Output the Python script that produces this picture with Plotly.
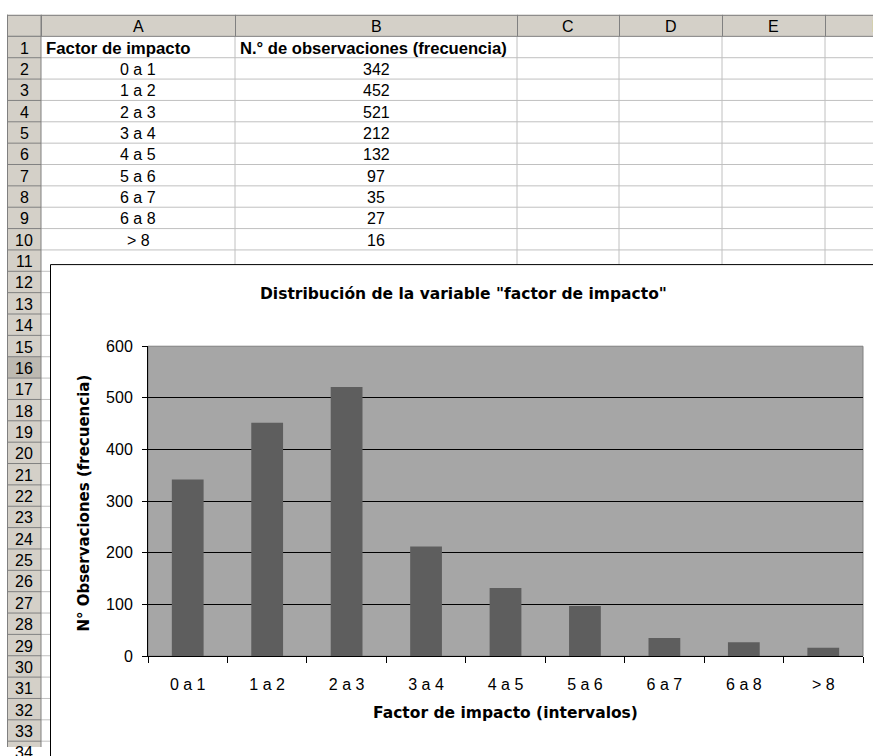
import plotly.graph_objects as go

# ---- data ----
categorias = ["0 a 1", "1 a 2", "2 a 3", "3 a 4", "4 a 5", "5 a 6", "6 a 7", "6 a 8", "> 8"]
frecuencias = [342, 452, 521, 212, 132, 97, 35, 27, 16]
columnas = ["A", "B", "C", "D", "E", "F"]
encabezado_a = "Factor de impacto"
encabezado_b = "N.° de observaciones (frecuencia)"
titulo = 'Distribución de la variable "factor de impacto"'
titulo_x = "Factor de impacto (intervalos)"
titulo_y = "N° Observaciones (frecuencia)"

W, H = 873, 756


def px(x):
    return x / W


def py(y):
    return 1 - y / H


# ---- sheet geometry (pixels) ----
col_edges = [7, 41, 235, 517, 619, 722, 825, 928]
hdr_top, hdr_bot = 7, 29
row_h = 21.85
n_rows = 35
row_edges = [hdr_bot + i * row_h for i in range(n_rows + 1)]

HDR_FILL = "#d4d0c8"
HDR_LINE = "#808080"
GRID = "#c0c0c0"

shapes = []


def rect(x0, y0, x1, y1, fill="rgba(0,0,0,0)", line=None, width=1):
    shapes.append(dict(type="rect", xref="paper", yref="paper",
                       x0=px(x0), x1=px(x1), y0=py(y1), y1=py(y0),
                       fillcolor=fill,
                       line=dict(color=line or "rgba(0,0,0,0)", width=width if line else 0),
                       layer="below"))


def seg(x0, y0, x1, y1, color, width=1):
    shapes.append(dict(type="line", xref="paper", yref="paper",
                       x0=px(x0), x1=px(x1), y0=py(y0), y1=py(y1),
                       line=dict(color=color, width=width), layer="below"))


# cell gridlines
for y in row_edges[1:]:
    seg(41, y, W, y, GRID)
for x in col_edges[2:]:
    seg(x, hdr_bot, x, H, GRID)

# column header band
rect(7, hdr_top, W + 5, hdr_bot, fill=HDR_FILL)
seg(7, hdr_top + 0.5, W, hdr_top + 0.5, HDR_LINE)
seg(7, hdr_bot, W, hdr_bot, HDR_LINE)
for x in col_edges[:-1]:
    seg(x + 0.5, hdr_top, x + 0.5, hdr_bot, HDR_LINE)

# row header band
rect(7, hdr_bot, 41, H, fill=HDR_FILL)
rect(7, row_edges[15], 41, row_edges[16], fill="#bdb9b1")
seg(7.5, hdr_top, 7.5, H, HDR_LINE)
seg(41, hdr_top, 41, H, HDR_LINE)
for y in row_edges:
    seg(7, y, 41, y, HDR_LINE)

# chart area and plot area backgrounds
rect(50.5, 262.5, W + 20, H + 20, fill="white", line="black")
rect(148, 346, 863, 663, fill="#a6a6a6", line="#808080")

annotations = []


def text(x, y, s, size=16, bold=False, anchor="center", family="Liberation Sans, Arial, sans-serif",
         angle=0):
    annotations.append(dict(xref="paper", yref="paper", x=px(x), y=py(y), text=s,
                            showarrow=False, xanchor=anchor, yanchor="middle",
                            textangle=angle,
                            font=dict(family=family, size=size, color="black",
                                      weight="bold" if bold else "normal")))


# column letters
for i, c in enumerate(columnas):
    text((col_edges[i + 1] + col_edges[i + 2]) / 2, (hdr_top + hdr_bot) / 2 + 1, c)

# row numbers
for r in range(1, n_rows):
    text(24, (row_edges[r - 1] + row_edges[r]) / 2 + 1, str(r))

# table contents
y1 = (row_edges[0] + row_edges[1]) / 2 + 1
text(44, y1, encabezado_a, size=16.8, bold=True, anchor="left")
text(238, y1, encabezado_b, size=16.6, bold=True, anchor="left")
for i, (cat, val) in enumerate(zip(categorias, frecuencias)):
    yc = (row_edges[i + 1] + row_edges[i + 2]) / 2 + 1
    text(138, yc, cat)
    text(376, yc, str(val))

# chart titles
CH_FONT = "DejaVu Sans, Verdana, sans-serif"
text(463, 293, titulo, size=15.5, bold=True, family=CH_FONT)
text(505, 721, titulo_x, size=15.5, bold=True, family=CH_FONT)
text(84, 507, titulo_y, size=15, bold=True, family=CH_FONT, angle=-90)

fig = go.Figure(go.Bar(x=categorias, y=frecuencias, width=0.4,
                       marker=dict(color="#5e5e5e", line=dict(width=0))))

tick_font = dict(family="Liberation Sans, Arial, sans-serif", size=16, color="black")

fig.update_layout(
    width=W, height=H,
    margin=dict(l=0, r=0, t=0, b=0),
    paper_bgcolor="white",
    plot_bgcolor="rgba(0,0,0,0)",
    showlegend=False,
    shapes=shapes,
    annotations=annotations,
    xaxis=dict(domain=[px(148), px(863)], type="category", range=[-0.5, 8.5],
               showgrid=False, showline=True, linecolor="black", linewidth=1,
               ticks="outside", tickson="boundaries", ticklen=6, tickcolor="black",
               tickfont=tick_font, ticklabelstandoff=14, zeroline=False),
    yaxis=dict(domain=[py(663), py(346)], range=[0, 600], dtick=100,
               showgrid=True, gridcolor="black", gridwidth=1,
               showline=True, linecolor="black", linewidth=1,
               ticks="outside", ticklen=5, tickcolor="black",
               tickfont=tick_font, ticklabelstandoff=6, zeroline=False),
)

fig.write_html("out.html")
